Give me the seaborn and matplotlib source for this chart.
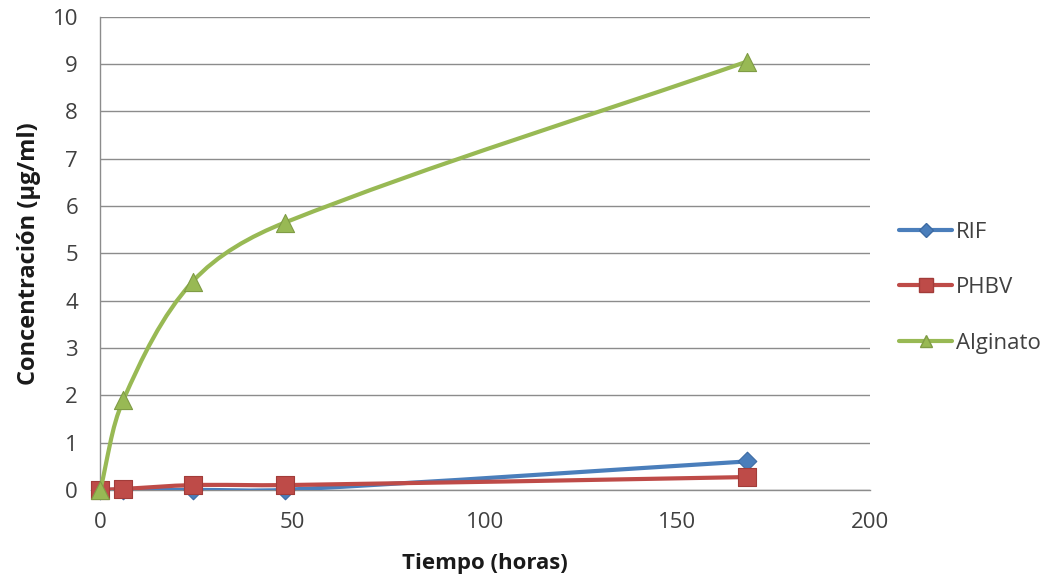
import numpy as np
import pandas as pd
import matplotlib
matplotlib.use("Agg")
import matplotlib.pyplot as plt
from matplotlib.path import Path
from matplotlib.patches import PathPatch
from matplotlib.lines import Line2D
import seaborn as sns

# Release data: concentration (µg/ml) versus time (hours)
tiempo = [0, 6, 24, 48, 168]
rif = [0.0, 0.0, 0.0, 0.0, 0.6]
phbv = [0.0, 0.02, 0.1, 0.1, 0.27]
alginato = [0.0, 1.9, 4.4, 5.65, 9.05]

series_names = ["RIF", "PHBV", "Alginato"]
x_ticks = [0, 50, 100, 150, 200]
y_ticks = list(range(0, 11))

colors = {"RIF": "#4A7EBB", "PHBV": "#BE4B48", "Alginato": "#98B954"}
edges = {"RIF": "#3C6AA3", "PHBV": "#A23C39", "Alginato": "#7F9C45"}
markers = {"RIF": "D", "PHBV": "s", "Alginato": "^"}
sizes = {"RIF": 90, "PHBV": 150, "Alginato": 170}
legend_msize = {"RIF": 7, "PHBV": 10, "Alginato": 9}

df = pd.DataFrame({
    "tiempo": tiempo * 3,
    "conc": rif + phbv + alginato,
    "serie": sum([[n] * len(tiempo) for n in series_names], []),
})

sns.set_theme(style="white")
plt.rcParams["font.family"] = ["Open Sans", "DejaVu Sans"]

fig = plt.figure(figsize=(10.44, 5.79), dpi=100)
ax = fig.add_axes([0.096, 0.154, 0.737, 0.817])
ax.set_xlim(0, 200)
ax.set_ylim(0, 10)

# approximate pixels per data unit, so the smoothing is done in screen proportions
X_SCALE = 3.85
Y_SCALE = 47.3


def smooth_path(xs, ys):
    """Cubic Bezier path through the points with chord-proportional handles."""
    pts = np.column_stack([np.asarray(xs, float) * X_SCALE,
                           np.asarray(ys, float) * Y_SCALE])
    n = len(pts)
    tangents = []
    for i in range(n):
        a = pts[max(i - 1, 0)]
        b = pts[min(i + 1, n - 1)]
        d = b - a
        norm = np.hypot(*d)
        tangents.append(d / norm if norm > 0 else np.zeros(2))
    verts = [pts[0]]
    codes = [Path.MOVETO]
    for i in range(n - 1):
        p1, p2 = pts[i], pts[i + 1]
        h = np.hypot(*(p2 - p1)) / 3.0
        c1 = p1 + tangents[i] * h
        c2 = p2 - tangents[i + 1] * h
        verts += [c1, c2, p2]
        codes += [Path.CURVE4] * 3
    verts = np.array(verts)
    verts[:, 0] /= X_SCALE
    verts[:, 1] /= Y_SCALE
    return Path(verts, codes)


for k, name in enumerate(series_names):
    sub = df[df["serie"] == name]
    patch = PathPatch(smooth_path(sub["tiempo"].values, sub["conc"].values),
                      facecolor="none", edgecolor=colors[name], lw=3.0,
                      zorder=3 + k, capstyle="round", joinstyle="round")
    ax.add_patch(patch)
    sns.scatterplot(data=sub, x="tiempo", y="conc", ax=ax, marker=markers[name],
                    s=sizes[name], color=colors[name], edgecolor=edges[name],
                    linewidth=0.8, zorder=3.5 + k, legend=False, clip_on=False)

ax.set_xlim(0, 200)
ax.set_ylim(0, 10)
ax.set_xticks(x_ticks)
ax.set_yticks(y_ticks)
ax.tick_params(axis="both", labelsize=16, colors="#404040", length=7,
               width=1, direction="out")
ax.tick_params(axis="x", color="#8C8C8C", length=5, pad=11)
ax.tick_params(axis="y", color="#8C8C8C", pad=9)
ax.yaxis.grid(True, color="#8C8C8C", lw=1)
ax.xaxis.grid(False)
for side in ["top", "right"]:
    ax.spines[side].set_visible(False)
for side in ["left", "bottom"]:
    ax.spines[side].set_color("#8C8C8C")
    ax.spines[side].set_linewidth(1)

ax.set_xlabel("Tiempo (horas)", fontsize=16, fontweight="bold", color="#1a1a1a", labelpad=14)
ax.set_ylabel("Concentración (µg/ml)", fontsize=17, fontweight="bold", color="#1a1a1a", labelpad=8)

handles = [Line2D([0], [0], color=colors[n], lw=3, marker=markers[n],
                  markersize=legend_msize[n],
                  markerfacecolor=colors[n], markeredgecolor=edges[n])
           for n in series_names]
fig.legend(handles, series_names, loc="center left", bbox_to_anchor=(0.842, 0.503),
           frameon=False, fontsize=16, handlelength=2.4, handletextpad=0.15,
           labelspacing=1.55, labelcolor="#404040")

fig.savefig("out.png", dpi=100)
